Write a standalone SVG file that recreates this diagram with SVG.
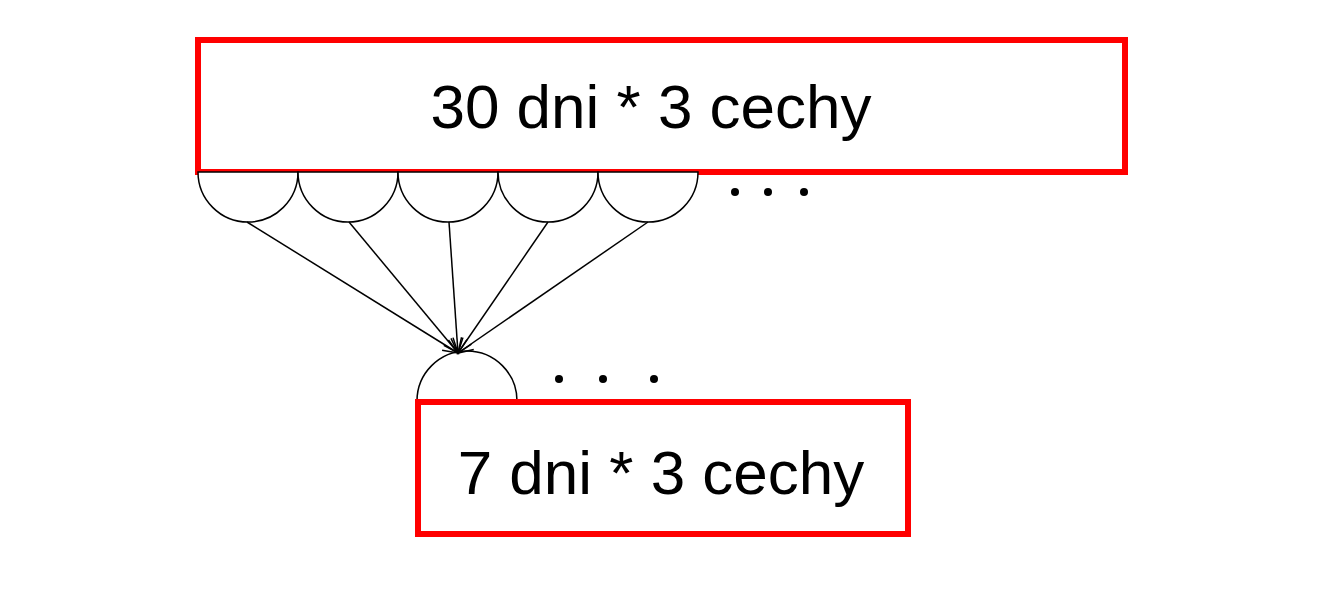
<svg xmlns="http://www.w3.org/2000/svg" width="1323" height="603" viewBox="0 0 1323 603">
<style>
.box{fill:none;stroke:#ff0000;stroke-width:6}
.semi{fill:#fff;stroke:#000;stroke-width:1.5}
.lbl{font-family:"Liberation Sans",Arial,sans-serif;font-size:62px;fill:#000;text-anchor:middle}
.edge{stroke:#000;stroke-width:1.5;fill:none}
.dot{fill:#000}
</style>
<defs>
<marker id="arr" markerUnits="userSpaceOnUse" markerWidth="30" markerHeight="30" refX="0" refY="0" viewBox="-16 -15 30 30" orient="auto" overflow="visible">
<path d="M-15,-6 L0,0 L-15,6" fill="none" stroke="#000" stroke-width="1.5"/>
</marker>
</defs>
<rect width="1323" height="603" fill="#fff"/>
<g id="top-node">
<rect class="box" x="198" y="40" width="927" height="132"/>
<text class="lbl" x="651" y="128">30 dni * 3 cechy</text>
</g>
<g id="top-kernels">
<path class="semi" d="M198,172 A50,50 0 0 0 298,172 Z"/>
<path class="semi" d="M298,172 A50,50 0 0 0 398,172 Z"/>
<path class="semi" d="M398,172 A50,50 0 0 0 498,172 Z"/>
<path class="semi" d="M498,172 A50,50 0 0 0 598,172 Z"/>
<path class="semi" d="M598,172 A50,50 0 0 0 698,172 Z"/>
<circle class="dot" cx="735" cy="192" r="4"/>
<circle class="dot" cx="768" cy="192" r="4"/>
<circle class="dot" cx="804" cy="192" r="4"/>
</g>
<g id="bottom-kernel">
<path class="semi" d="M417,401 A50,50 0 0 1 517,401 Z"/>
<circle class="dot" cx="559" cy="379" r="4"/>
<circle class="dot" cx="603" cy="379" r="4"/>
<circle class="dot" cx="654" cy="379" r="4"/>
</g>
<g id="bottom-node">
<rect class="box" x="418" y="402" width="490" height="132"/>
<text class="lbl" x="661" y="494">7 dni * 3 cechy</text>
</g>
<g id="connectors">
<line class="edge" x1="247" y1="222" x2="458" y2="353" marker-end="url(#arr)"/>
<line class="edge" x1="349" y1="222" x2="458" y2="353" marker-end="url(#arr)"/>
<line class="edge" x1="449" y1="222" x2="458" y2="353" marker-end="url(#arr)"/>
<line class="edge" x1="548" y1="222" x2="458" y2="353" marker-end="url(#arr)"/>
<line class="edge" x1="648" y1="222" x2="458" y2="353" marker-end="url(#arr)"/>
</g>
</svg>
